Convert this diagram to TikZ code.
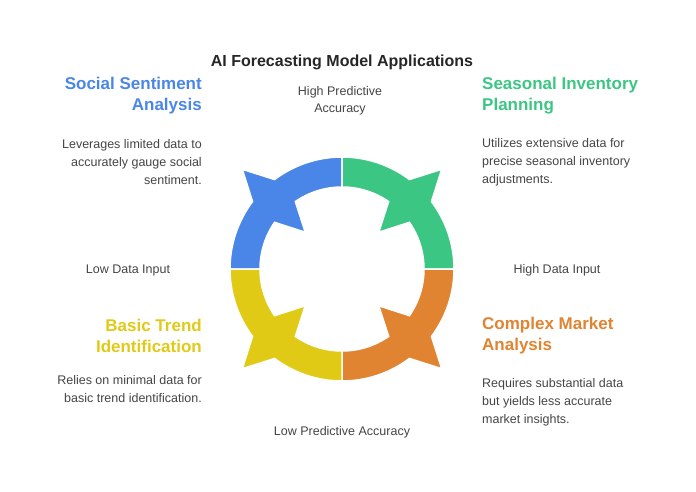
\documentclass[tikz,border=0pt]{standalone}
\usepackage{fontspec}
\setmainfont{Liberation Sans}
\usetikzlibrary{calc}
\definecolor{cblue}{HTML}{4A86E8}
\definecolor{cgreen}{HTML}{3CC683}
\definecolor{corange}{HTML}{E08431}
\definecolor{cyellow}{HTML}{E1CA16}
\definecolor{ctxt}{HTML}{444444}
\begin{document}
\begin{tikzpicture}[x=1pt,y=1pt,
  seg/.style={draw=white,line width=1.5pt,line join=miter},
  head/.style={font=\bfseries\fontsize{17}{21}\selectfont,inner sep=0},
  body/.style={text=ctxt,font=\fontsize{12.5}{18}\selectfont,inner sep=0},
  lbl/.style={text=ctxt,font=\fontsize{12.5}{17}\selectfont,inner sep=0,align=center}]
\useasboundingbox (0,0) rectangle (696,-492);
\newcommand\ringseg[2]{%
 \fill[#2,seg] ($(342,-269)+(#1-45:112)$) arc[start angle=#1-45,end angle=#1-8,radius=112]
   -- ($(342,-269)+(#1:141)$) -- ($(342,-269)+(#1+8:112)$)
   arc[start angle=#1+8,end angle=#1+45,radius=112]
   -- ($(342,-269)+(#1+45:82)$) arc[start angle=#1+45,end angle=#1+10.3,radius=82]
   -- ($(342,-269)+(#1:52)$) -- ($(342,-269)+(#1-10.3:82)$)
   arc[start angle=#1-10.3,end angle=#1-45,radius=82] -- cycle;}
\ringseg{135}{cblue}
\ringseg{45}{cgreen}
\ringseg{315}{corange}
\ringseg{225}{cyellow}
\node[font=\bfseries\fontsize{16}{20}\selectfont,text=black!85] (title) at (342,-62) {AI Forecasting Model Applications};
\node[lbl] (hpa) at (340,-101) {High Predictive\\Accuracy};
\node[lbl] (ldi) at (128,-270) {Low Data Input};
\node[lbl] (hdi) at (557,-270) {High Data Input};
\node[lbl] (lpa) at (342,-432) {Low Predictive Accuracy};
\node[head,text=cblue,align=right,anchor=east] (h1) at (202,-96) {Social Sentiment\\Analysis};
\node[body,align=right,anchor=east] (b1) at (202,-162) {Leverages limited data to\\accurately gauge social\\sentiment.};
\node[head,text=cgreen,align=left,anchor=west] (h2) at (482,-96) {Seasonal Inventory\\Planning};
\node[body,align=left,anchor=west] (b2) at (482,-162) {Utilizes extensive data for\\precise seasonal inventory\\adjustments.};
\node[head,text=cyellow,align=right,anchor=east] (h3) at (202,-336) {Basic Trend\\Identification};
\node[body,align=right,anchor=east] (b3) at (202,-389) {Relies on minimal data for\\basic trend identification.};
\node[head,text=corange,align=left,anchor=west] (h4) at (482,-336) {Complex Market\\Analysis};
\node[body,align=left,anchor=west] (b4) at (482,-402) {Requires substantial data\\but yields less accurate\\market insights.};
\end{tikzpicture}
\end{document}
